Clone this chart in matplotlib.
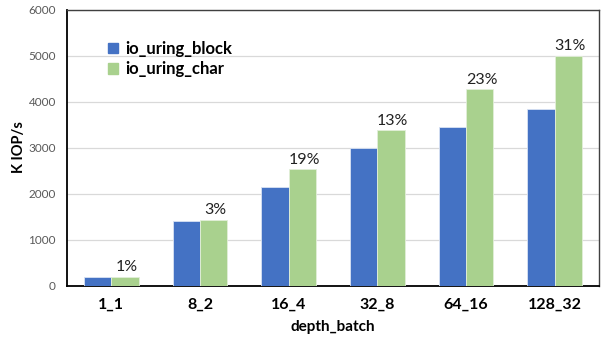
import numpy as np
import matplotlib
matplotlib.use('Agg')
import matplotlib.pyplot as plt
from matplotlib.patches import Patch

plt.rcParams['font.family'] = ['Lato', 'DejaVu Sans']

categories = ['1_1', '8_2', '16_4', '32_8', '64_16', '128_32']
block = [185, 1395, 2135, 2990, 3450, 3837]
char = [190, 1430, 2530, 3380, 4265, 4995]
pct_labels = ['1%', '3%', '19%', '13%', '23%', '31%']

BLUE = '#4472C4'
GREEN = '#A9D18E'

fig = plt.figure(figsize=(6.02, 3.39), dpi=100)
ax = fig.add_axes([67/602, 1 - 285.5/339, 532/602, 276/339])

x = np.arange(len(categories))
w = 0.31
ax.bar(x - w/2, block, w, color=BLUE, edgecolor='#D9E2F3', linewidth=0.6, zorder=3)
ax.bar(x + w/2, char, w, color=GREEN, edgecolor='#E2EFD9', linewidth=0.6, zorder=3)

for xi, v, lab in zip(x, char, pct_labels):
    ax.text(xi + w/2 + 0.02, v + 50, lab, ha='center', va='bottom', fontsize=11.5, color='#222222')

ax.set_xlim(-0.5, len(categories) - 0.5)
ax.set_ylim(0, 6000)
ax.set_yticks(range(0, 6001, 1000))
ax.yaxis.grid(True, color='#D9D9D9', linewidth=0.9, zorder=0)
ax.set_axisbelow(True)

ax.set_xticks(x)
ax.set_xticklabels(categories, fontsize=11.5, fontweight='bold')
ax.tick_params(axis='x', length=0, pad=9)
ax.tick_params(axis='y', length=0, pad=8, labelsize=8.5, labelcolor='#595959')

for s in ['top', 'right']:
    ax.spines[s].set_color('#404040')
    ax.spines[s].set_linewidth(1.0)
for s in ['left', 'bottom']:
    ax.spines[s].set_color('black')
    ax.spines[s].set_linewidth(1.3)

ax.set_xlabel('depth_batch', fontsize=11, fontweight='bold', labelpad=6)
ax.set_ylabel('K IOP/s', fontsize=10.5, fontweight='bold', labelpad=2)

handles = [Patch(color=BLUE, label='io_uring_block'), Patch(color=GREEN, label='io_uring_char')]
ax.legend(handles=handles, loc='upper left', bbox_to_anchor=(0.065, 0.91), frameon=False,
          prop={'weight': 'bold', 'size': 12}, handlelength=0.6, handleheight=0.6,
          handletextpad=0.4, labelspacing=0.25, borderaxespad=0)

fig.savefig('out.png', dpi=100)
